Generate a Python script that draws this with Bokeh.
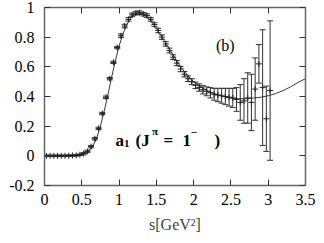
from bokeh.plotting import figure
from bokeh.models import ColumnDataSource, Whisker, TeeHead, LinearAxis, FixedTicker, Label, Range1d
from bokeh.embed import file_html
from bokeh.resources import INLINE

# ---- data ----
s_data = [0.025, 0.075, 0.125, 0.175, 0.225, 0.275, 0.325, 0.375, 0.425, 0.475,
          0.525, 0.575, 0.625, 0.675, 0.725, 0.775, 0.825, 0.875, 0.925, 0.975,
          1.025, 1.075, 1.125, 1.175, 1.225, 1.275, 1.325, 1.375, 1.425, 1.475,
          1.525, 1.575, 1.625, 1.675, 1.725, 1.775, 1.825, 1.875, 1.925, 1.975,
          2.025, 2.075, 2.125, 2.175, 2.225, 2.275, 2.325, 2.375, 2.425, 2.475,
          2.525, 2.575, 2.625, 2.675, 2.725, 2.775, 2.825, 2.875, 2.925, 2.975,
          3.025]
v_data = [0.000, 0.000, 0.000, 0.000, 0.000, 0.000, 0.001, 0.002, 0.003, 0.007,
          0.015, 0.030, 0.062, 0.115, 0.185, 0.285, 0.395, 0.520, 0.630, 0.730,
          0.810, 0.875, 0.920, 0.950, 0.962, 0.965, 0.955, 0.945, 0.920, 0.885,
          0.845, 0.800, 0.755, 0.710, 0.665, 0.625, 0.585, 0.550, 0.520, 0.500,
          0.475, 0.460, 0.445, 0.435, 0.425, 0.415, 0.410, 0.405, 0.400, 0.395,
          0.390, 0.380, 0.360, 0.370, 0.390, 0.360, 0.450, 0.620, 0.460, 0.250,
          0.440]
e_data = [0.005, 0.005, 0.005, 0.005, 0.005, 0.005, 0.005, 0.005, 0.005, 0.005,
          0.008, 0.008, 0.008, 0.008, 0.008, 0.008, 0.008, 0.008, 0.008, 0.008,
          0.012, 0.012, 0.012, 0.012, 0.012, 0.012, 0.012, 0.012, 0.012, 0.012,
          0.015, 0.015, 0.015, 0.016, 0.016, 0.017, 0.018, 0.018, 0.019, 0.020,
          0.022, 0.025, 0.028, 0.030, 0.035, 0.040, 0.045, 0.050, 0.055, 0.060,
          0.065, 0.080, 0.120, 0.150, 0.170, 0.190, 0.210, 0.130, 0.390, 0.220,
          0.470]

s_curve = [0.30, 0.40, 0.50, 0.55, 0.60, 0.65, 0.70, 0.75, 0.80, 0.85, 0.90, 0.95,
           1.00, 1.05, 1.10, 1.15, 1.20, 1.25, 1.30, 1.35, 1.40, 1.45, 1.50, 1.55,
           1.60, 1.65, 1.70, 1.75, 1.80, 1.85, 1.90, 1.95, 2.00, 2.10, 2.20, 2.30,
           2.40, 2.50, 2.60, 2.70, 2.80, 2.90, 3.00, 3.10, 3.20, 3.30, 3.40, 3.50]
v_curve = [0.000, 0.003, 0.010, 0.020, 0.038, 0.068, 0.120, 0.200, 0.300, 0.410, 0.530, 0.640,
           0.740, 0.820, 0.880, 0.925, 0.950, 0.962, 0.960, 0.948, 0.925, 0.895, 0.860, 0.820,
           0.780, 0.740, 0.700, 0.660, 0.620, 0.585, 0.555, 0.525, 0.500, 0.465, 0.435, 0.415,
           0.400, 0.390, 0.385, 0.385, 0.390, 0.395, 0.405, 0.420, 0.440, 0.465, 0.495, 0.520]

x_ticks = [0, 0.5, 1, 1.5, 2, 2.5, 3, 3.5]
x_tick_labels = ["0", "0.5", "1", "1.5", "2", "2.5", "3", "3.5"]
y_ticks = [-0.2, 0, 0.2, 0.4, 0.6, 0.8, 1]
y_tick_labels = ["-0.2", "0", "0.2", "0.4", "0.6", "0.8", "1"]

FONT = "'Liberation Serif', 'Times New Roman', serif"

p = figure(width=316, height=235, output_backend="svg", toolbar_location=None,
           x_range=Range1d(0, 3.5), y_range=Range1d(-0.2, 1.0),
           x_axis_location=None, y_axis_location=None,
           min_border_left=44, min_border_right=11, min_border_top=7, min_border_bottom=47)
p.xgrid.visible = False
p.ygrid.visible = False
p.outline_line_color = None
p.background_fill_color = "white"
p.border_fill_color = "white"

def style_axis(ax, ticks, labels, show):
    ax.ticker = FixedTicker(ticks=ticks)
    ax.major_tick_in = 6
    ax.major_tick_out = 0
    ax.minor_tick_line_color = None
    ax.axis_line_color = "#666666"
    ax.axis_line_width = 1.5
    ax.major_tick_line_color = "#333333"
    ax.major_tick_line_width = 1
    ax.major_label_text_font = FONT
    ax.major_label_text_color = "black"
    if show:
        ax.major_label_overrides = {t: l for t, l in zip(ticks, labels)}
        ax.major_label_text_font_size = "16px"
    else:
        ax.major_label_overrides = {t: "" for t in ticks}
        ax.major_label_text_font_size = "1px"
        ax.major_label_standoff = 0

xb = LinearAxis()
style_axis(xb, x_ticks, x_tick_labels, True)
xb.major_label_standoff = 8
xb.axis_label = "s[GeV²]"
xb.axis_label_text_font = FONT
xb.axis_label_text_font_style = "normal"
xb.axis_label_text_font_size = "16px"
xb.axis_label_standoff = 8
p.add_layout(xb, "below")

yl = LinearAxis()
style_axis(yl, y_ticks, y_tick_labels, True)
yl.major_label_standoff = 10
p.add_layout(yl, "left")

xt = LinearAxis()
style_axis(xt, x_ticks, x_tick_labels, False)
p.add_layout(xt, "above")

yr = LinearAxis()
style_axis(yr, y_ticks, y_tick_labels, False)
p.add_layout(yr, "right")

# curve
p.line(s_curve, v_curve, line_color="#222222", line_width=0.9)

# data with error bars
src = ColumnDataSource(dict(
    s=s_data, v=v_data,
    up=[v + e for v, e in zip(v_data, e_data)],
    lo=[v - e for v, e in zip(v_data, e_data)],
))
w = Whisker(source=src, base="s", upper="up", lower="lo",
            line_color="#333333", line_width=1,
            upper_head=TeeHead(size=6, line_color="#333333", line_width=1),
            lower_head=TeeHead(size=6, line_color="#333333", line_width=1))
p.add_layout(w)
p.scatter("s", "v", source=src, marker="cross", size=6, line_color="#222222", line_width=1)

# annotations
def lab(x, y, text, size="16px", bold=False, align="left"):
    p.add_layout(Label(x=x, y=y, text=text, text_font=FONT, text_font_size=size,
                       text_font_style="bold" if bold else "normal",
                       text_color="black", text_baseline="alphabetic", text_align=align))

lab(2.30, 0.745, "(b)")
lab(0.952, 0.106, "a", size="17px", bold=True)
lab(1.065, 0.082, "1", size="11px", bold=True)
lab(1.22, 0.106, "(J", size="17px", bold=True)
lab(1.44, 0.165, "π", size="11px", bold=True)
lab(1.595, 0.106, "=", size="17px", bold=True)
lab(1.85, 0.106, "1", size="17px", bold=True)
lab(1.96, 0.160, "−", size="11px", bold=True)
lab(2.28, 0.106, ")", size="17px", bold=True)

open("out.html", "w").write(file_html(p, INLINE))
